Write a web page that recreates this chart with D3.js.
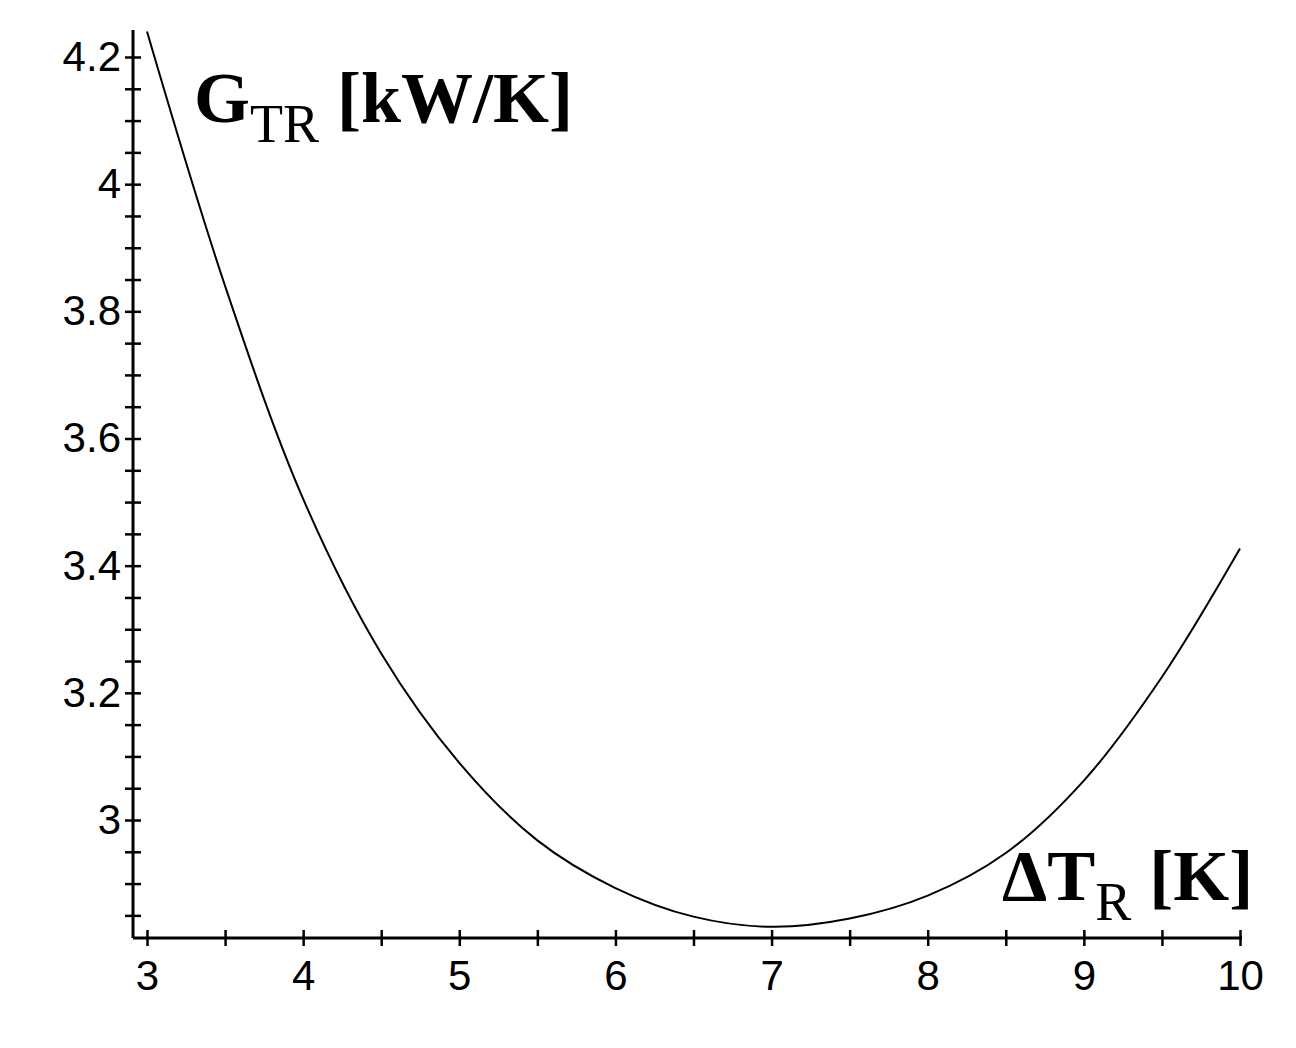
<html>
<head>
<script src="https://cdn.jsdelivr.net/npm/d3@7/dist/d3.min.js"></script>
<style>
  body { margin: 0; background: #fff; }
  .tick text { font-family: "Liberation Sans", sans-serif; font-size: 42px; fill: #000; }
  .lbl { font-family: "Liberation Serif", serif; font-size: 72px; font-weight: bold; fill: #000; }
</style>
</head>
<body>
<svg id="chart" width="1296" height="1048"></svg>
<script>
// values
var dT = [3, 3.5, 4, 4.5, 5, 5.5, 6, 6.5, 7, 7.5, 8, 8.5, 9, 9.5, 10];
var G  = [4.24, 3.84, 3.505, 3.262, 3.09, 2.968, 2.893, 2.848, 2.832, 2.845, 2.881, 2.948, 3.062, 3.225, 3.427];
var xTicks = [3, 4, 5, 6, 7, 8, 9, 10];
var yTicks = [3, 3.2, 3.4, 3.6, 3.8, 4, 4.2];

var svg = d3.select("#chart");
var x = d3.scaleLinear().domain([3, 10]).range([147, 1240]);
var y = d3.scaleLinear().domain([3, 4.2]).range([820, 57]);
var axisY = 938, axisX = 133;

// x axis
var gx = svg.append("g").attr("transform", "translate(0," + axisY + ")");
gx.call(d3.axisBottom(x).tickValues(d3.range(3, 10.01, 0.5)).tickSize(10)
    .tickFormat(function (d) { return Number.isInteger(d) ? d : ""; }));
gx.select(".domain").attr("d", "M" + axisX + ",0H1242").attr("stroke-width", 3);
gx.selectAll(".tick line").attr("stroke-width", 2.5).attr("y1", -8).attr("y2", 8);
gx.selectAll(".tick text").attr("y", 22);

// y axis
var gy = svg.append("g").attr("transform", "translate(" + axisX + ",0)");
gy.call(d3.axisLeft(y).tickValues(d3.range(2.85, 4.2001, 0.05)).tickSize(8)
    .tickFormat(function (d) {
        var r = Math.round(d * 100);
        return yTicks.some(function (t) { return Math.round(t * 100) === r; }) ? +(d.toFixed(1)) : "";
    }));
gy.select(".domain").attr("d", "M0,30V" + axisY).attr("stroke-width", 3);
gy.selectAll(".tick line").attr("stroke-width", 2.5).attr("x1", -8).attr("x2", 8);
gy.selectAll(".tick text").attr("x", -12);

// curve
svg.append("path").datum(d3.range(dT.length))
  .attr("fill", "none").attr("stroke", "#000").attr("stroke-width", 2)
  .attr("d", d3.line().x(function (i) { return x(dT[i]); }).y(function (i) { return y(G[i]); })
    .curve(d3.curveCatmullRom.alpha(0.5)));

// labels
var gl = svg.append("text").attr("class", "lbl").attr("x", 194).attr("y", 122);
gl.append("tspan").text("G");
gl.append("tspan").attr("dy", 20).attr("font-size", 54).attr("font-weight", "normal").text("TR");
gl.append("tspan").attr("dy", -20).text(" [kW/K]");

var tl = svg.append("text").attr("class", "lbl").attr("x", 1002).attr("y", 900);
tl.append("tspan").text("ΔT");
tl.append("tspan").attr("dy", 20).attr("font-size", 54).attr("font-weight", "normal").text("R");
tl.append("tspan").attr("dy", -20).text(" [K]");
</script>
</body>
</html>
